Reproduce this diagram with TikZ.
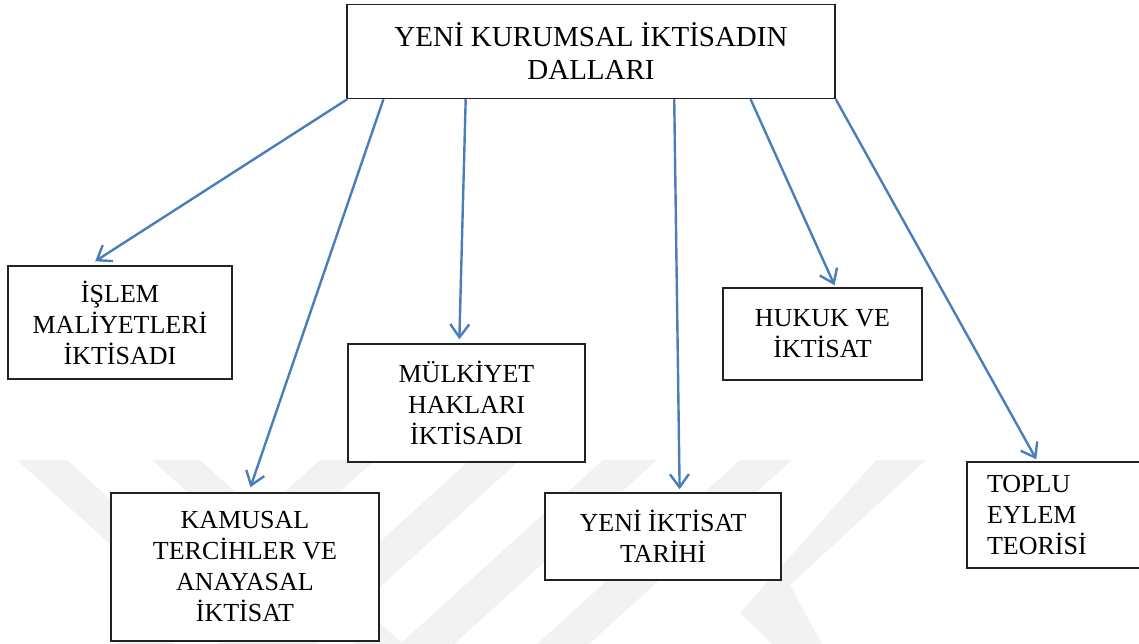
\documentclass[tikz,border=0pt]{standalone}
\usepackage{fontspec}
\setmainfont{Liberation Serif}
\usetikzlibrary{arrows.meta,calc}

\definecolor{linkblue}{HTML}{4A7EBB}
\definecolor{boxline}{HTML}{222222}
\definecolor{mark}{HTML}{F2F2F2}

\tikzset{
  box/.style={draw=boxline, line width=1.5pt, fill=white, rectangle,
              inner sep=0pt, align=center,
              font=\fontsize{26}{31}\selectfont},
  link/.style={draw=linkblue, line width=2.4pt,
               -{Straight Barb[length=13pt,width=19pt,line width=2.4pt]}},
  band/.style={fill=mark, draw=none}
}

\begin{document}
\begin{tikzpicture}[x=1pt, y=-1pt]
\useasboundingbox (0,0) rectangle (1139,644);

% faint background stripes
\fill[band] (17,460) -- (67,460) -- (270,644) -- (220,644) -- cycle;
\fill[band] (152,460) -- (200,460) -- (403,644) -- (355,644) -- cycle;
\fill[band] (320,460) -- (375,460) -- (172,644) -- (117,644) -- cycle;
\fill[band] (470,460) -- (520,460) -- (317,644) -- (267,644) -- cycle;
\fill[band] (603,460) -- (657,460) -- (454,644) -- (400,644) -- cycle;
\fill[band] (740,460) -- (792,460) -- (589,644) -- (537,644) -- cycle;
\fill[band] (876,460) -- (926,460) -- (790,585) -- (822,644) -- (772,644) -- (740,613) -- cycle;

% main box
\node[box, minimum width=488pt, minimum height=94pt,
      font=\fontsize{29}{33}\selectfont] (top) at (591,51.5)
  {YENİ KURUMSAL İKTİSADIN\\DALLARI};

% branch boxes
\node[box, minimum width=224pt, minimum height=113pt] (islem) at (120,322.5)
  {İŞLEM\\MALİYETLERİ\\İKTİSADI};
\node[box, minimum width=268pt, minimum height=148pt] (kamu) at (245,567)
  {KAMUSAL\\TERCİHLER VE\\ANAYASAL\\İKTİSAT};
\node[box, minimum width=237pt, minimum height=118pt] (mulk) at (466.5,403)
  {MÜLKİYET\\HAKLARI\\İKTİSADI};
\node[box, minimum width=236pt, minimum height=87pt] (tarih) at (663,536.5)
  {YENİ İKTİSAT\\TARİHİ};
\node[box, minimum width=199pt, minimum height=92pt] (hukuk) at (822.5,334)
  {HUKUK VE\\İKTİSAT};
\node[box, align=left, text width=138pt, inner xsep=20pt,
      minimum height=106pt] (toplu) at (1056,515)
  {TOPLU\\EYLEM\\TEORİSİ};

% connectors from the main box to each branch
\draw[link] ($(top.south west)!0.002!(top.south east)$)
         -- ($(islem.north west)!0.39!(islem.north east)+(0,-4)$);
\draw[link] ($(top.south west)!0.076!(top.south east)$)
         -- ($(kamu.north west)!0.52!(kamu.north east)+(0,-5)$);
\draw[link] ($(top.south west)!0.244!(top.south east)$)
         -- ($(mulk.north west)!0.47!(mulk.north east)+(0,-4)$);
\draw[link] ($(top.south west)!0.67!(top.south east)$)
         -- ($(tarih.north west)!0.57!(tarih.north east)+(0,-3)$);
\draw[link] ($(top.south west)!0.826!(top.south east)$)
         -- ($(hukuk.north west)!0.56!(hukuk.north east)+(0,-2)$);
\draw[link] (top.south east)
         -- ($(toplu.north west)!0.39!(toplu.north east)+(0,-2)$);
\end{tikzpicture}
\end{document}
